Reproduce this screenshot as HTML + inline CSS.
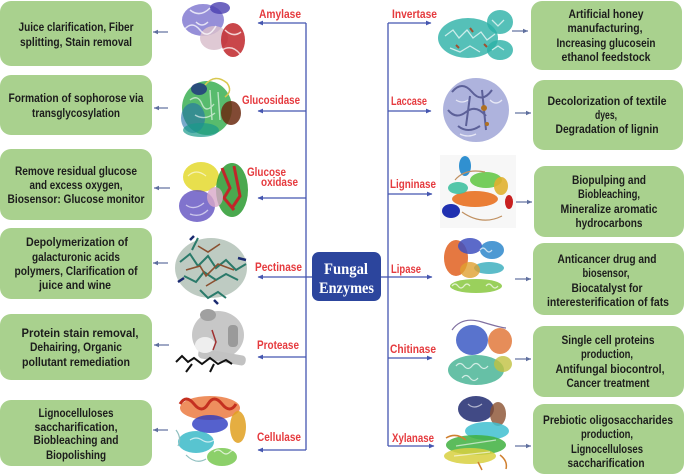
<!DOCTYPE html>
<html><head><meta charset="utf-8"><style>
html,body{margin:0;padding:0;background:#fff;}
svg{display:block;}
.t{font-family:"Liberation Sans",sans-serif;font-weight:bold;font-size:11.8px;fill:#1c1c1c;}
.r{font-family:"Liberation Sans",sans-serif;font-weight:bold;font-size:11.5px;fill:#e53a3e;}
.c{font-family:"Liberation Serif",serif;font-weight:bold;font-size:15.5px;fill:#fff;}
</style></head><body>
<svg width="685" height="476" viewBox="0 0 685 476" xmlns="http://www.w3.org/2000/svg">
<defs>
<marker id="a" markerWidth="6" markerHeight="6" refX="5" refY="3" orient="auto" markerUnits="userSpaceOnUse"><path d="M0,0.6 L5.5,3 L0,5.4 z" fill="#4556b0"/></marker>
<marker id="b" markerWidth="6" markerHeight="6" refX="5" refY="3" orient="auto" markerUnits="userSpaceOnUse"><path d="M0,0.8 L5,3 L0,5.2 z" fill="#5f6f9e"/></marker>
</defs>
<rect width="685" height="476" fill="#fff"/>

<!-- green boxes left -->
<g fill="#a9d18e">
<rect x="0" y="1" width="152" height="65" rx="11"/>
<rect x="0" y="75" width="152" height="60" rx="11"/>
<rect x="0" y="149" width="152" height="71" rx="11"/>
<rect x="0" y="228" width="152" height="71" rx="11"/>
<rect x="0" y="314" width="152" height="66" rx="11"/>
<rect x="0" y="400" width="152" height="66" rx="11"/>
<!-- right -->
<rect x="531" y="1" width="151" height="69" rx="11"/>
<rect x="533" y="80" width="150" height="70" rx="11"/>
<rect x="534" y="166" width="150" height="71" rx="11"/>
<rect x="533" y="243" width="151" height="72" rx="11"/>
<rect x="533" y="326" width="151" height="71" rx="11"/>
<rect x="533" y="404" width="151" height="70" rx="11"/>
</g>

<!-- box text left -->
<g class="t" text-anchor="middle">
<text x="76" y="31" textLength="115" lengthAdjust="spacingAndGlyphs">Juice clarification, Fiber</text>
<text x="76" y="46" textLength="112" lengthAdjust="spacingAndGlyphs">splitting, Stain removal</text>
<text x="76" y="102" textLength="135" lengthAdjust="spacingAndGlyphs">Formation of sophorose via</text>
<text x="76" y="117" textLength="88" lengthAdjust="spacingAndGlyphs">transglycosylation</text>
<text x="76" y="175" textLength="122" lengthAdjust="spacingAndGlyphs">Remove residual glucose</text>
<text x="76" y="189" textLength="93" lengthAdjust="spacingAndGlyphs">and excess oxygen,</text>
<text x="76" y="203" textLength="137" lengthAdjust="spacingAndGlyphs">Biosensor: Glucose monitor</text>
<text x="77" y="246" textLength="102" lengthAdjust="spacingAndGlyphs">Depolymerization of</text>
<text x="76" y="261" textLength="88" lengthAdjust="spacingAndGlyphs">galacturonic acids</text>
<text x="76" y="275" textLength="123" lengthAdjust="spacingAndGlyphs">polymers, Clarification of</text>
<text x="75" y="289" textLength="72" lengthAdjust="spacingAndGlyphs">juice and wine</text>
<text x="80" y="337" textLength="117" lengthAdjust="spacingAndGlyphs">Protein stain removal,</text>
<text x="76" y="351" textLength="92" lengthAdjust="spacingAndGlyphs">Dehairing, Organic</text>
<text x="76" y="366" textLength="108" lengthAdjust="spacingAndGlyphs">pollutant remediation</text>
<text x="76" y="417" textLength="75" lengthAdjust="spacingAndGlyphs">Lignocelluloses</text>
<text x="76" y="431" textLength="83" lengthAdjust="spacingAndGlyphs">saccharification,</text>
<text x="76" y="444" textLength="85" lengthAdjust="spacingAndGlyphs">Biobleaching and</text>
<text x="76" y="459" textLength="60" lengthAdjust="spacingAndGlyphs">Biopolishing</text>
</g>
<!-- box text right -->
<g class="t" text-anchor="middle">
<text x="606" y="18" textLength="75" lengthAdjust="spacingAndGlyphs">Artificial honey</text>
<text x="605" y="32" textLength="75" lengthAdjust="spacingAndGlyphs">manufacturing,</text>
<text x="606" y="47" textLength="99" lengthAdjust="spacingAndGlyphs">Increasing glucosein</text>
<text x="606" y="61" textLength="89" lengthAdjust="spacingAndGlyphs">ethanol feedstock</text>
<text x="607" y="105" textLength="119" lengthAdjust="spacingAndGlyphs">Decolorization of textile</text>
<text x="606" y="119" textLength="22" lengthAdjust="spacingAndGlyphs">dyes,</text>
<text x="607" y="133" textLength="103" lengthAdjust="spacingAndGlyphs">Degradation of lignin</text>
<text x="609" y="184" textLength="74" lengthAdjust="spacingAndGlyphs">Biopulping and</text>
<text x="609" y="198" textLength="62" lengthAdjust="spacingAndGlyphs">Biobleaching,</text>
<text x="609" y="213" textLength="97" lengthAdjust="spacingAndGlyphs">Mineralize aromatic</text>
<text x="609" y="227" textLength="67" lengthAdjust="spacingAndGlyphs">hydrocarbons</text>
<text x="607" y="263" textLength="99" lengthAdjust="spacingAndGlyphs">Anticancer drug and</text>
<text x="606" y="277" textLength="47" lengthAdjust="spacingAndGlyphs">biosensor,</text>
<text x="607" y="292" textLength="71" lengthAdjust="spacingAndGlyphs">Biocatalyst for</text>
<text x="608" y="306" textLength="122" lengthAdjust="spacingAndGlyphs">interesterification of fats</text>
<text x="608" y="344" textLength="93" lengthAdjust="spacingAndGlyphs">Single cell proteins</text>
<text x="607" y="358" textLength="52" lengthAdjust="spacingAndGlyphs">production,</text>
<text x="610" y="373" textLength="109" lengthAdjust="spacingAndGlyphs">Antifungal biocontrol,</text>
<text x="608" y="387" textLength="83" lengthAdjust="spacingAndGlyphs">Cancer treatment</text>
<text x="608" y="424" textLength="130" lengthAdjust="spacingAndGlyphs">Prebiotic oligosaccharides</text>
<text x="607" y="438" textLength="52" lengthAdjust="spacingAndGlyphs">production,</text>
<text x="607" y="453" textLength="72" lengthAdjust="spacingAndGlyphs">Lignocelluloses</text>
<text x="606" y="467" textLength="77" lengthAdjust="spacingAndGlyphs">saccharification</text>
</g>

<!-- small arrows -->
<g stroke="#5f6f9e" stroke-width="1.2" marker-end="url(#b)">
<line x1="168" y1="32" x2="153" y2="32"/>
<line x1="168" y1="108" x2="154" y2="108"/>
<line x1="170" y1="188" x2="154" y2="188"/>
<line x1="168" y1="263" x2="153" y2="263"/>
<line x1="169" y1="345" x2="154" y2="345"/>
<line x1="168" y1="430" x2="153" y2="430"/>
<line x1="512" y1="31" x2="528" y2="31"/>
<line x1="515" y1="113" x2="531" y2="113"/>
<line x1="516" y1="202" x2="532" y2="202"/>
<line x1="515" y1="279" x2="531" y2="279"/>
<line x1="515" y1="359" x2="531" y2="359"/>
<line x1="515" y1="446" x2="531" y2="446"/>
</g>

<!-- proteins left -->
<g>
 <!-- amylase -->
 <ellipse cx="203" cy="20" rx="21" ry="16" fill="#6a5fc8" opacity=".7"/>
 <ellipse cx="220" cy="8" rx="10" ry="6" fill="#4a3fb0" opacity=".8"/>
 <ellipse cx="214" cy="38" rx="14" ry="12" fill="#d9bfcc" opacity=".85"/>
 <ellipse cx="233" cy="40" rx="12" ry="17" fill="#c0262a" opacity=".85"/>
 <path d="M184,30 q8,-10 16,0 t16,-4 M190,10 q10,8 20,-2 M225,30 q8,8 16,2 M222,50 q10,-6 18,4 M196,22 q6,6 12,0" stroke="#fff" stroke-width="1.5" fill="none" opacity=".75"/>
 <!-- glucosidase -->
 <ellipse cx="207" cy="108" rx="25" ry="27" fill="#2eaa48" opacity=".8"/>
 <ellipse cx="193" cy="118" rx="12" ry="15" fill="#1f70a8" opacity=".6"/>
 <ellipse cx="201" cy="130" rx="18" ry="7" fill="#1a9a8a" opacity=".7"/>
 <ellipse cx="199" cy="89" rx="8" ry="6" fill="#1a2a80" opacity=".75"/>
 <ellipse cx="231" cy="113" rx="10" ry="12" fill="#6b2a10" opacity=".85"/>
 <path d="M205,85 q10,-12 22,-2 q6,8 -2,14" stroke="#d8c850" stroke-width="1.5" fill="none"/>
 <path d="M190,100 q8,-6 12,4 t12,0 M195,115 q10,6 20,-2 M210,90 l2,30 M218,92 l2,28" stroke="#fff" stroke-width="1.4" fill="none" opacity=".6"/>
 <!-- glucose oxidase -->
 <ellipse cx="201" cy="177" rx="18" ry="15" fill="#e6dc3a" opacity=".9"/>
 <ellipse cx="232" cy="190" rx="16" ry="27" fill="#2a9a30" opacity=".85"/>
 <path d="M222,168 l8,20 l-6,10 l10,12 M234,166 l6,30 l-8,12" stroke="#c0262a" stroke-width="3" fill="none"/>
 <ellipse cx="197" cy="206" rx="18" ry="16" fill="#6050c0" opacity=".8"/>
 <ellipse cx="215" cy="197" rx="8" ry="10" fill="#d8a8c8" opacity=".8"/>
 <path d="M188,176 q8,-8 18,0 M186,205 q8,6 18,-2 M190,214 q10,4 18,-4" stroke="#fff" stroke-width="1.3" fill="none" opacity=".6"/>
 <!-- pectinase -->
 <ellipse cx="211" cy="268" rx="36" ry="30" fill="#88a090" opacity=".55"/>
 <path d="M180,262 l10,-8 l8,12 l10,-10 l8,12 l10,-8 l10,10 l10,-6 M184,276 l12,6 l8,-10 l12,8 l10,-6 l12,6 M192,250 l6,-12 M200,290 l8,8 l10,-6 l8,6" stroke="#2a7a6a" stroke-width="2" fill="none"/>
 <path d="M186,270 l14,-4 l6,10 l12,-12 l16,6 M198,246 l10,6 l12,-8 M206,286 l10,-6" stroke="#8a5030" stroke-width="1.6" fill="none"/>
 <path d="M178,282 l6,-4 M238,258 l8,2 M214,300 l4,4 M190,240 l4,-4" stroke="#1a2a70" stroke-width="2.5"/>
 <!-- protease -->
 <ellipse cx="218" cy="335" rx="26" ry="24" fill="#b4b4b4" opacity=".75"/>
 <ellipse cx="208" cy="315" rx="8" ry="6" fill="#a0a0a0"/>
 <rect x="228" y="325" width="10" height="22" rx="4" fill="#9a9a9a"/>
 <rect x="198" y="352" width="48" height="10" rx="4" fill="#c2c2c2" transform="rotate(10 222 357)"/>
 <ellipse cx="205" cy="345" rx="10" ry="8" fill="#eee"/>
 <path d="M176,362 l6,-6 l6,6 l6,-4 l8,6 l8,-6 l8,6 l8,-4 l6,4 M186,372 l6,-8 M210,372 l4,-8" stroke="#111" stroke-width="2" fill="none"/>
 <path d="M212,330 l4,12 l-3,8" stroke="#a03030" stroke-width="1.5" fill="none"/>
 <!-- cellulase -->
 <ellipse cx="210" cy="408" rx="30" ry="12" fill="#e86a28" opacity=".75"/>
 <path d="M180,404 q6,-10 14,0 t14,0 t14,0 t14,0" stroke="#c43020" stroke-width="3" fill="none"/>
 <ellipse cx="238" cy="427" rx="8" ry="16" fill="#e0a020" opacity=".85"/>
 <ellipse cx="210" cy="424" rx="18" ry="9" fill="#2a3ac0" opacity=".8"/>
 <ellipse cx="196" cy="442" rx="18" ry="11" fill="#20b0c0" opacity=".75"/>
 <ellipse cx="222" cy="457" rx="15" ry="9" fill="#78c850" opacity=".85"/>
 <path d="M176,430 q6,8 2,16 M186,455 q10,10 20,4" stroke="#90c0c0" stroke-width="1.2" fill="none"/>
 <path d="M214,452 q4,-4 8,0 t8,0 t8,0 M190,440 q6,-4 12,0 t12,0" stroke="#fff" stroke-width="1.2" fill="none" opacity=".7"/>
</g>

<!-- proteins right -->
<g>
 <!-- invertase -->
 <ellipse cx="468" cy="38" rx="30" ry="20" fill="#2ab0a6" opacity=".8"/>
 <ellipse cx="500" cy="22" rx="13" ry="12" fill="#2ab0a6" opacity=".8"/>
 <ellipse cx="500" cy="50" rx="13" ry="10" fill="#2ab0a6" opacity=".8"/>
 <path d="M445,36 l8,-6 l6,8 l8,-8 l6,8 l8,-6 l6,8 l8,-6 M450,48 l10,4 l10,-6 l10,6 M492,20 l6,6 l6,-6 M492,50 l6,-4 l6,4" stroke="#fff" stroke-width="1.3" fill="none" opacity=".7"/>
 <path d="M470,28 l3,4 M484,44 l3,3 M456,45 l3,3" stroke="#a05030" stroke-width="2"/>
 <!-- laccase -->
 <ellipse cx="476" cy="110" rx="33" ry="32" fill="#9aa0d4" opacity=".8"/>
 <path d="M452,92 q10,-12 20,0 t20,-2 M448,110 q8,10 18,2 t20,4 M458,126 q10,8 22,0 M482,90 l4,40 M470,96 l-4,30" stroke="#5c6098" stroke-width="2" fill="none"/>
 <path d="M456,100 q6,4 12,0 M490,100 q6,6 12,0 M460,134 q8,4 16,0" stroke="#fff" stroke-width="1.3" fill="none" opacity=".7"/>
 <circle cx="484" cy="108" r="3" fill="#b07020"/>
 <circle cx="487" cy="124" r="2" fill="#b07020"/>
 <!-- ligninase -->
 <rect x="440" y="155" width="76" height="73" fill="#f7f7f7"/>
 <ellipse cx="465" cy="166" rx="6" ry="10" fill="#3090d0"/>
 <ellipse cx="486" cy="180" rx="16" ry="8" fill="#66c84a" opacity=".9"/>
 <ellipse cx="475" cy="199" rx="23" ry="8" fill="#e87020" opacity=".9"/>
 <ellipse cx="458" cy="188" rx="10" ry="6" fill="#40c0a0" opacity=".9"/>
 <ellipse cx="501" cy="186" rx="7" ry="9" fill="#e0b030" opacity=".9"/>
 <ellipse cx="451" cy="211" rx="9" ry="7" fill="#2030b0"/>
 <ellipse cx="509" cy="202" rx="4" ry="7" fill="#c82020"/>
 <path d="M462,212 q20,14 40,4 M455,180 q10,-12 30,-8" stroke="#c09060" stroke-width="1.2" fill="none"/>
 <!-- lipase -->
 <ellipse cx="456" cy="258" rx="12" ry="18" fill="#e06020" opacity=".85"/>
 <ellipse cx="470" cy="246" rx="12" ry="8" fill="#4050c0" opacity=".85"/>
 <ellipse cx="492" cy="250" rx="12" ry="9" fill="#2080c8" opacity=".8"/>
 <ellipse cx="489" cy="268" rx="15" ry="6" fill="#40b0c0" opacity=".85"/>
 <ellipse cx="470" cy="270" rx="10" ry="8" fill="#e0a030" opacity=".8"/>
 <ellipse cx="476" cy="286" rx="26" ry="7" fill="#88c840" opacity=".85"/>
 <path d="M452,286 q3,-4 6,0 t6,0 t6,0 M486,286 q3,-4 6,0 t6,0 M480,250 q3,-4 6,0 t6,0" stroke="#fff" stroke-width="1.2" fill="none" opacity=".7"/>
 <!-- chitinase -->
 <ellipse cx="472" cy="340" rx="16" ry="15" fill="#3050c0" opacity=".8"/>
 <ellipse cx="500" cy="341" rx="12" ry="13" fill="#e07030" opacity=".8"/>
 <ellipse cx="476" cy="370" rx="28" ry="15" fill="#40b090" opacity=".8"/>
 <ellipse cx="503" cy="364" rx="9" ry="8" fill="#c0c040" opacity=".8"/>
 <path d="M452,330 q10,-14 30,-8 t24,6" stroke="#8070a0" stroke-width="1.2" fill="none"/>
 <path d="M456,366 q4,-5 8,0 t8,0 t8,0 t8,0 M462,378 q4,-5 8,0 t8,0" stroke="#fff" stroke-width="1.2" fill="none" opacity=".7"/>
 <!-- xylanase -->
 <ellipse cx="476" cy="409" rx="18" ry="13" fill="#202a70" opacity=".85"/>
 <ellipse cx="498" cy="414" rx="8" ry="12" fill="#8a5030" opacity=".8"/>
 <ellipse cx="487" cy="431" rx="22" ry="9" fill="#40c0d0" opacity=".85"/>
 <ellipse cx="476" cy="445" rx="30" ry="10" fill="#40b040" opacity=".85"/>
 <ellipse cx="470" cy="456" rx="26" ry="8" fill="#d8d040" opacity=".85"/>
 <path d="M446,438 q10,-6 20,2 M478,462 l4,8 M500,455 q8,6 6,14" stroke="#d08030" stroke-width="1.5" fill="none"/>
 <path d="M468,404 q6,6 14,0 M456,446 l40,-6 M454,456 l36,-4" stroke="#fff" stroke-width="1.2" fill="none" opacity=".6"/>
</g>

<!-- connectors -->
<g stroke="#4556b0" stroke-width="1.3" fill="none">
<line x1="306" y1="23" x2="306" y2="450"/>
<line x1="388" y1="23" x2="388" y2="446"/>
<line x1="306" y1="277" x2="312" y2="277"/>
<line x1="381" y1="277" x2="388" y2="277"/>
</g>
<g stroke="#4556b0" stroke-width="1.3" marker-end="url(#a)">
<line x1="306" y1="23" x2="258" y2="23"/>
<line x1="306" y1="111" x2="258" y2="111"/>
<line x1="306" y1="198" x2="258" y2="198"/>
<line x1="306" y1="277" x2="258" y2="277"/>
<line x1="306" y1="357" x2="258" y2="357"/>
<line x1="306" y1="450" x2="258" y2="450"/>
<line x1="388" y1="23" x2="431" y2="23"/>
<line x1="388" y1="111" x2="431" y2="111"/>
<line x1="388" y1="194" x2="432" y2="194"/>
<line x1="388" y1="277" x2="432" y2="277"/>
<line x1="388" y1="358" x2="432" y2="358"/>
<line x1="388" y1="446" x2="434" y2="446"/>
</g>

<!-- center box -->
<rect x="312" y="252" width="69" height="49" rx="7" fill="#2c459d"/>
<text class="c" x="346" y="274" text-anchor="middle" textLength="44" lengthAdjust="spacingAndGlyphs">Fungal</text>
<text class="c" x="346.5" y="293" text-anchor="middle" textLength="55" lengthAdjust="spacingAndGlyphs">Enzymes</text>

<!-- red labels -->
<g class="r" text-anchor="middle">
<text x="280" y="18" textLength="42" lengthAdjust="spacingAndGlyphs">Amylase</text>
<text x="271" y="104" textLength="58" lengthAdjust="spacingAndGlyphs">Glucosidase</text>
<text x="266.5" y="176" textLength="39" lengthAdjust="spacingAndGlyphs">Glucose</text>
<text x="279.5" y="186" textLength="37" lengthAdjust="spacingAndGlyphs">oxidase</text>
<text x="278.5" y="271" textLength="47" lengthAdjust="spacingAndGlyphs">Pectinase</text>
<text x="278" y="349" textLength="42" lengthAdjust="spacingAndGlyphs">Protease</text>
<text x="279" y="441" textLength="44" lengthAdjust="spacingAndGlyphs">Cellulase</text>
<text x="414.5" y="18" textLength="45" lengthAdjust="spacingAndGlyphs">Invertase</text>
<text x="409" y="105" textLength="36" lengthAdjust="spacingAndGlyphs">Laccase</text>
<text x="413" y="188" textLength="46" lengthAdjust="spacingAndGlyphs">Ligninase</text>
<text x="406" y="273" textLength="30" lengthAdjust="spacingAndGlyphs">Lipase</text>
<text x="413" y="353" textLength="46" lengthAdjust="spacingAndGlyphs">Chitinase</text>
<text x="413" y="442" textLength="42" lengthAdjust="spacingAndGlyphs">Xylanase</text>
</g>
</svg>
</body></html>
